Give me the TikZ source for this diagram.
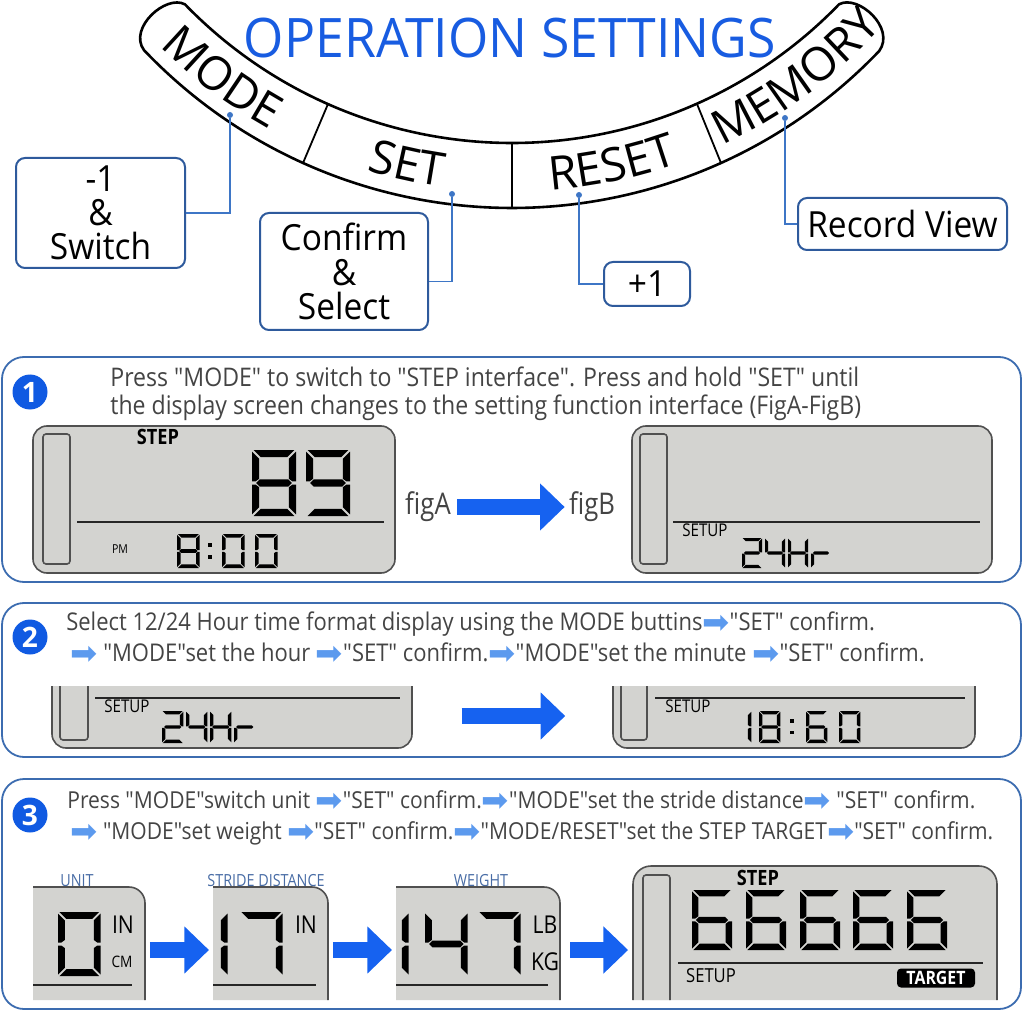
\documentclass[tikz,border=0pt]{standalone}
\usepackage{fontspec}
\setmainfont{Open Sans}
\newfontfamily\condfont[FakeStretch=0.86]{Open Sans}
\newfontfamily\sayfont[FakeStretch=0.9]{Open Sans}
\newfontfamily\callfont[FakeStretch=0.93]{Open Sans}
\newfontfamily\titlefont[FakeStretch=0.95]{Open Sans}
\newfontfamily\symfont{DejaVu Sans}
\usetikzlibrary{positioning, calc, arrows.meta, decorations.text}

\definecolor{titleblue}{RGB}{24,92,225}
\definecolor{numblue}{RGB}{16,90,226}
\definecolor{bigblue}{RGB}{22,98,240}
\definecolor{arrowlight}{RGB}{92,154,238}
\definecolor{panelblue}{RGB}{60,108,176}
\definecolor{calloutblue}{RGB}{46,90,156}
\definecolor{leadblue}{RGB}{62,118,198}
\definecolor{labelblue}{RGB}{72,108,165}
\definecolor{lcdgray}{RGB}{211,211,208}
\definecolor{lcdedge}{RGB}{80,80,80}
\definecolor{textgray}{RGB}{68,68,68}

\newdimen\pxu \pxu=0.02cm

% seven segment digits, box 10 x 15, y pointing down
\newcommand\lcdseg[1]{%
  \if a#1\fill (0.35,0) -- (9.65,0) -- (8.05,1.6) -- (1.95,1.6) -- cycle;\fi
  \if b#1\fill (10,0.35) -- (8.4,1.95) -- (8.4,6.55) -- (9.2,7.15) -- (10,7.15) -- cycle;\fi
  \if c#1\fill (10,7.85) -- (9.2,7.85) -- (8.4,8.45) -- (8.4,13.05) -- (10,14.65) -- cycle;\fi
  \if d#1\fill (0.35,15) -- (9.65,15) -- (8.05,13.4) -- (1.95,13.4) -- cycle;\fi
  \if e#1\fill (0,7.85) -- (0.8,7.85) -- (1.6,8.45) -- (1.6,13.05) -- (0,14.65) -- cycle;\fi
  \if f#1\fill (0,0.35) -- (1.6,1.95) -- (1.6,6.55) -- (0.8,7.15) -- (0,7.15) -- cycle;\fi
  \if g#1\fill (0.95,7.5) -- (1.75,6.7) -- (8.25,6.7) -- (9.05,7.5) -- (8.25,8.3) -- (1.75,8.3) -- cycle;\fi}
\def\sgzero{a,b,c,d,e,f}
\def\sgone{b,c}
\def\sgtwo{a,b,g,e,d}
\def\sgfour{f,g,b,c}
\def\sgsix{a,f,g,e,d,c}
\def\sgseven{a,b,c}
\def\sgeight{a,b,c,d,e,f,g}
\def\sgnine{a,b,c,d,f,g}
\def\sgH{b,c,e,f,g}
\def\sgr{e,g}
\newcommand\lcddigit[4]{% top left x, y, height, segments
  \begin{scope}[shift={(#1,#2)}, scale=#3/15]
    \edef\lcdsegs{#4}%
    \foreach \s in \lcdsegs {\lcdseg{\s}}
  \end{scope}}
\newcommand\lcdcolon[3]{%
  \fill (#1,#2+0.26*#3) rectangle ++(0.11*#3,0.11*#3);
  \fill (#1,#2+0.62*#3) rectangle ++(0.11*#3,0.11*#3);}
\newcommand\ra{{\symfont\fontsize{18.5}{13}\selectfont\color{arrowlight}\raisebox{-0.12em}{➡}}}

\begin{document}
\begin{tikzpicture}[x=0.02cm, y=-0.02cm,
    band/.style={line width=2.6\pxu, black},
    bandsep/.style={line width=1.8\pxu, black},
    bandtext/.style={decorate, decoration={text along path, text align=center,
        text={|\fontsize{26.5}{26.5}\selectfont|#1}}},
    callout/.style={draw=calloutblue, line width=2\pxu, rounded corners=9\pxu,
        align=center, inner sep=0pt, font=\callfont\fontsize{20.5}{19.5}\selectfont},
    leaddot/.style={circle, fill=leadblue, minimum size=6\pxu, inner sep=0pt},
    lead/.style={leadblue, line width=1.5\pxu},
    panel/.style={draw=panelblue, line width=1.8\pxu, rounded corners=22\pxu},
    stepnum/.style={circle, fill=numblue, text=white, minimum size=35\pxu, inner sep=0pt,
        font=\bfseries\fontsize{16}{16}\selectfont},
    say/.style={anchor=base west, inner sep=0pt, text=textgray,
        font=\sayfont\fontsize{#1}{#1}\selectfont},
    lcdbox/.style={draw=lcdedge, fill=lcdgray, line width=1.6\pxu, rounded corners=14\pxu, inner sep=0pt},
    lcdpart/.style={draw=lcdedge, fill=lcdgray, line width=1.6\pxu},
    lcdout/.style={draw=lcdedge, line width=1.6\pxu},
    lcdbar/.style={draw=lcdedge, fill=lcdgray, line width=1.6\pxu, rounded corners=3\pxu},
    lcdline/.style={draw=black!85, line width=1.6\pxu},
    lcdtag/.style={inner sep=0pt, font=\condfont\fontsize{#1}{#1}\selectfont},
    lcdbold/.style={inner sep=0pt, font=\condfont\bfseries\fontsize{#1}{#1}\selectfont},
    toplbl/.style={inner sep=0pt, text=labelblue, font=\condfont\fontsize{9.5}{9.5}\selectfont},
    figlbl/.style={inner sep=0pt, text=textgray, font=\condfont\fontsize{17}{17}\selectfont},
    bigarr/.style={bigblue, line width=8.8pt, -{Triangle[length=14pt, width=26pt]}},
]
\useasboundingbox (0,0) rectangle (1024,1013);

% button band
\coordinate (uc) at (512,-312);
\coordinate (lc) at (512,-300);
\coordinate (bc) at (512,-306);
\draw[band] ([shift={(135.94:455)}]uc) arc[start angle=135.94, end angle=44.04, radius=455]
    .. controls (858,-6) and (896,28) .. ([shift={(43.72:508)}]lc)
    arc[start angle=43.72, end angle=136.44, radius=508]
    .. controls (128,28) and (166,-6) .. ([shift={(135.94:455)}]uc) -- cycle;
\draw[bandsep] (328,104) -- (303,163);
\draw[bandsep] (512,143) -- (512,208);
\draw[bandsep] (697,104) -- (721,163);
\path[bandtext=MODE] ([shift={(146:498)}]bc) arc[start angle=146, end angle=108, radius=498];
\path[bandtext=SET] ([shift={(120:498)}]bc) arc[start angle=120, end angle=85, radius=498];
\path[bandtext=RESET] ([shift={(96:498)}]bc) arc[start angle=96, end angle=60, radius=498];
\path[bandtext=MEMORY] ([shift={(72:498)}]bc) arc[start angle=72, end angle=35, radius=498];

\node[font=\titlefont\fontsize{31}{31}\selectfont, text=titleblue, inner sep=0pt] (title) at (510,38) {OPERATION SETTINGS};

% callouts
\node[callout, minimum width=169\pxu, minimum height=110\pxu] (minus) at (100.5,213) {-1\\\&\\Switch};
\node[callout, minimum width=168\pxu, minimum height=117\pxu] (confirm) at (344,271.5) {Confirm\\\&\\Select};
\node[callout, minimum width=86\pxu, minimum height=44\pxu] (plus) at (647,284) {+1};
\node[callout, minimum width=209\pxu, minimum height=52\pxu] (record) at (902.5,224) {Record View};
\node[leaddot] (modedot) at (230,115) {};
\node[leaddot] (setdot) at (452,194) {};
\node[leaddot] (resetdot) at (579,195) {};
\node[leaddot] (memdot) at (785,118) {};
\draw[lead] (modedot) |- (minus.east);
\draw[lead] (setdot) |- ([yshift=-5.7pt]confirm.east);
\draw[lead] (resetdot) |- (plus.west);
\draw[lead] (memdot) |- (record.west);

% step 1
\draw[panel] (2,357) rectangle (1021,582);
\node[stepnum] (stepone) at (30,392) {1};
\node[say=14.6] (oneA) at (110,386) {Press "MODE" to switch to "STEP interface". Press and hold "SET" until};
\node[say=14.6] (oneB) at (110,414) {the display screen changes to the setting function interface (FigA-FigB)};

\node[lcdbox, minimum width=362\pxu, minimum height=147\pxu] (lcdA) at (214,499.5) {};
\draw[lcdbar] (43,434) rectangle (70,564);
\draw[lcdline] (77,522) -- (384,522);
\node[lcdbold=12] (stepA) at (158,437) {STEP};
\lcddigit{252}{450}{66}{\sgeight}
\lcddigit{306}{450}{66}{\sgnine}
\node[lcdtag=7] (pmA) at (120,549) {PM};
\lcddigit{177}{534}{34}{\sgeight}
\lcdcolon{208}{534}{34}
\lcddigit{222}{534}{34}{\sgzero}
\lcddigit{255}{534}{34}{\sgzero}

\node[figlbl] (figA) at (428,507) {figA};
\node[figlbl] (figB) at (592,507) {figB};
\draw[bigarr, shorten <=3.4pt, shorten >=2.3pt] (figA) -- (figB);

\node[lcdbox, minimum width=360\pxu, minimum height=147\pxu] (lcdB) at (812,499.5) {};
\draw[lcdbar] (640,434) rectangle (667,564);
\draw[lcdline] (673,522) -- (980,522);
\node[lcdtag=10] (setupB) at (705,530) {SETUP};
\lcddigit{742}{538}{30}{\sgtwo}
\lcddigit{765}{538}{30}{\sgfour}
\lcddigit{788}{538}{30}{\sgH}
\lcddigit{811}{538}{30}{\sgr}

% step 2
\draw[panel] (2,603) rectangle (1021,757);
\node[stepnum] (steptwo) at (30,637) {2};
\node[say=13.9] (twoA) at (66,630) {Select 12/24 Hour time format display using the MODE buttins\ra"SET" confirm.};
\node[say=13.9] (twoB) at (70,661) {\ra\ "MODE"set the hour \ra"SET" confirm.\ra"MODE"set the minute \ra"SET" confirm.};

\filldraw[lcdpart, rounded corners=14\pxu] (52,686) -- (52,748) -- (412,748) -- (412,686);
\draw[lcdbar] (60,686) -- (60,740) -- (88,740) -- (88,686);
\draw[lcdline] (95,698) -- (400,698);
\node[lcdtag=10] (setupC) at (127,706) {SETUP};
\lcddigit{162}{711}{32}{\sgtwo}
\lcddigit{186}{711}{32}{\sgfour}
\lcddigit{210}{711}{32}{\sgH}
\lcddigit{234}{711}{32}{\sgr}
\coordinate (hourL) at (412,716);

\filldraw[lcdpart, rounded corners=14\pxu] (613,686) -- (613,748) -- (975,748) -- (975,686);
\draw[lcdbar] (621,686) -- (621,740) -- (647,740) -- (647,686);
\draw[lcdline] (655,698) -- (965,698);
\node[lcdtag=10] (setupD) at (688,706) {SETUP};
\lcddigit{730}{711}{32}{\sgone}
\lcddigit{759}{711}{32}{\sgeight}
\lcdcolon{790}{711}{32}
\lcddigit{806}{711}{32}{\sgsix}
\lcddigit{839}{711}{32}{\sgzero}
\coordinate (hourR) at (613,716);
\draw[bigarr, shorten <=28.3pt, shorten >=27.2pt] (hourL) -- (hourR);

% step 3
\draw[panel] (2,779) rectangle (1021,1009);
\node[stepnum] (stepthree) at (30,815) {3};
\node[say=13.3] (threeA) at (67,808) {Press "MODE"switch unit \ra"SET" confirm.\ra"MODE"set the stride distance\ra\ "SET" confirm.};
\node[say=13.3] (threeB) at (70,839) {\ra\ "MODE"set weight \ra"SET" confirm.\ra"MODE/RESET"set the STEP TARGET\ra"SET" confirm.};

% unit
\node[toplbl] (unitlbl) at (77,881) {UNIT};
\fill[lcdgray] (33,887) -- (129,887) arc[start angle=-90, end angle=0, radius=16] -- (145,1000) -- (33,1000) -- cycle;
\draw[lcdout] (33,887) -- (129,887) arc[start angle=-90, end angle=0, radius=16] -- (145,1000);
\draw[lcdline] (33,985) -- (132,985);
\lcddigit{58}{912}{64}{\sgzero}
\node[lcdtag=14] (unitin) at (123,925) {IN};
\node[lcdtag=9] (unitcm) at (122,962) {CM};
\coordinate (unitR) at (145,950);

% stride
\node[toplbl] (stridelbl) at (266,881) {STRIDE DISTANCE};
\fill[lcdgray] (213,887) -- (312,887) arc[start angle=-90, end angle=0, radius=16] -- (328,1000) -- (213,1000) -- cycle;
\draw[lcdout] (213,887) -- (312,887) arc[start angle=-90, end angle=0, radius=16] -- (328,1000);
\draw[lcdline] (213,985) -- (316,985);
\lcddigit{185}{912}{64}{\sgone}
\lcddigit{240}{912}{64}{\sgseven}
\node[lcdtag=14] (stridein) at (306,925) {IN};
\coordinate (strideL) at (213,950);
\coordinate (strideR) at (328,950);

% weight
\node[toplbl] (weightlbl) at (481,881) {WEIGHT};
\fill[lcdgray] (396,887) -- (544,887) arc[start angle=-90, end angle=0, radius=16] -- (560,1000) -- (396,1000) -- cycle;
\draw[lcdout] (396,887) -- (544,887) arc[start angle=-90, end angle=0, radius=16] -- (560,1000);
\draw[lcdline] (396,985) -- (548,985);
\lcddigit{366}{912}{64}{\sgone}
\lcddigit{425}{912}{64}{\sgfour}
\lcddigit{478}{912}{64}{\sgseven}
\node[lcdtag=14] (weightlb) at (545,925) {LB};
\node[lcdtag=14] (weightkg) at (545,962) {KG};
\coordinate (weightL) at (396,950);
\coordinate (weightR) at (560,950);

% target
\filldraw[lcdpart, rounded corners=18\pxu] (633,1000) -- (633,866) -- (997,866) -- (997,1000);
\filldraw[lcdbar] (643,1000) -- (643,875) -- (670,875) -- (670,1000);
\node[lcdbold=12] (stepT) at (758,878) {STEP};
\foreach \xd in {692,746,800,853,907} {\lcddigit{\xd}{890}{60}{\sgsix}}
\draw[lcdline] (678,963) -- (983,963);
\node[lcdtag=11] (setupT) at (711,976) {SETUP};
\node[fill=black, text=white, rounded corners=4\pxu, inner sep=0pt, minimum width=78\pxu,
    minimum height=19\pxu, font=\condfont\bfseries\fontsize{10.5}{10.5}\selectfont] (target) at (936,978) {TARGET};
\coordinate (targetL) at (633,950);

\draw[bigarr, shorten <=2.8pt, shorten >=2.3pt] (unitR) -- (strideL);
\draw[bigarr, shorten <=2.8pt, shorten >=2.3pt] (strideR) -- (weightL);
\draw[bigarr, shorten <=5.7pt, shorten >=2.8pt] (weightR) -- (targetL);

\end{tikzpicture}
\end{document}
